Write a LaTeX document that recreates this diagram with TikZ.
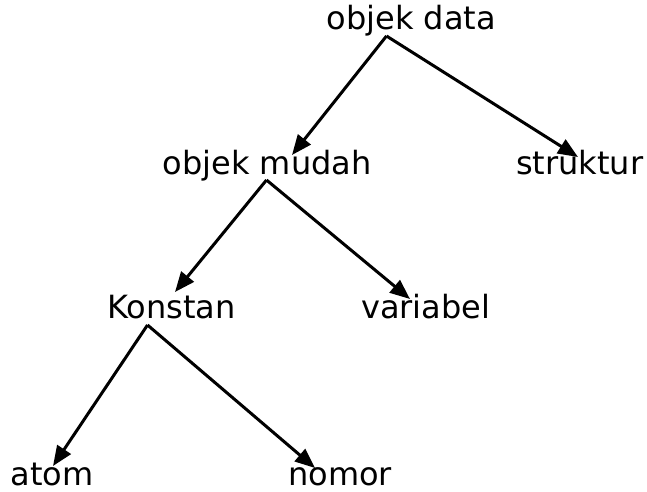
\documentclass[tikz,border=0pt]{standalone}
\usepackage{fontspec}
\setmainfont{DejaVu Sans}
\usetikzlibrary{arrows.meta}
\begin{document}
\begin{tikzpicture}[x=1pt,y=-1pt,
  lbl/.style={anchor=base west,inner sep=0pt,font=\fontsize{32}{38}\selectfont},
  arr/.style={line width=3pt,-{Triangle[length=20pt,width=16pt]}}]
\useasboundingbox (0,0) rectangle (647,491);
\node[lbl] (data) at (326.5,29) {objek data};
\node[lbl] (mudah) at (162.5,174) {objek mudah};
\node[lbl] (struktur) at (516,174) {struktur};
\node[lbl] (konstan) at (107,318) {Konstan};
\node[lbl] (variabel) at (361,318) {variabel};
\node[lbl] (atom) at (10.5,485) {atom};
\node[lbl] (nomor) at (288,485) {nomor};
\coordinate (a1) at (386.5,36);
\coordinate (a2) at (266.5,180);
\coordinate (a3) at (147.5,325);
\coordinate (t1) at (292,155);
\coordinate (t2) at (578,157);
\coordinate (t3) at (175,292);
\coordinate (t4) at (410,299);
\coordinate (t5) at (53,466);
\coordinate (t6) at (315,468);
\draw[arr] (a1) -- (t1);
\draw[arr] (a1) -- (t2);
\draw[arr] (a2) -- (t3);
\draw[arr] (a2) -- (t4);
\draw[arr] (a3) -- (t5);
\draw[arr] (a3) -- (t6);
\end{tikzpicture}
\end{document}
